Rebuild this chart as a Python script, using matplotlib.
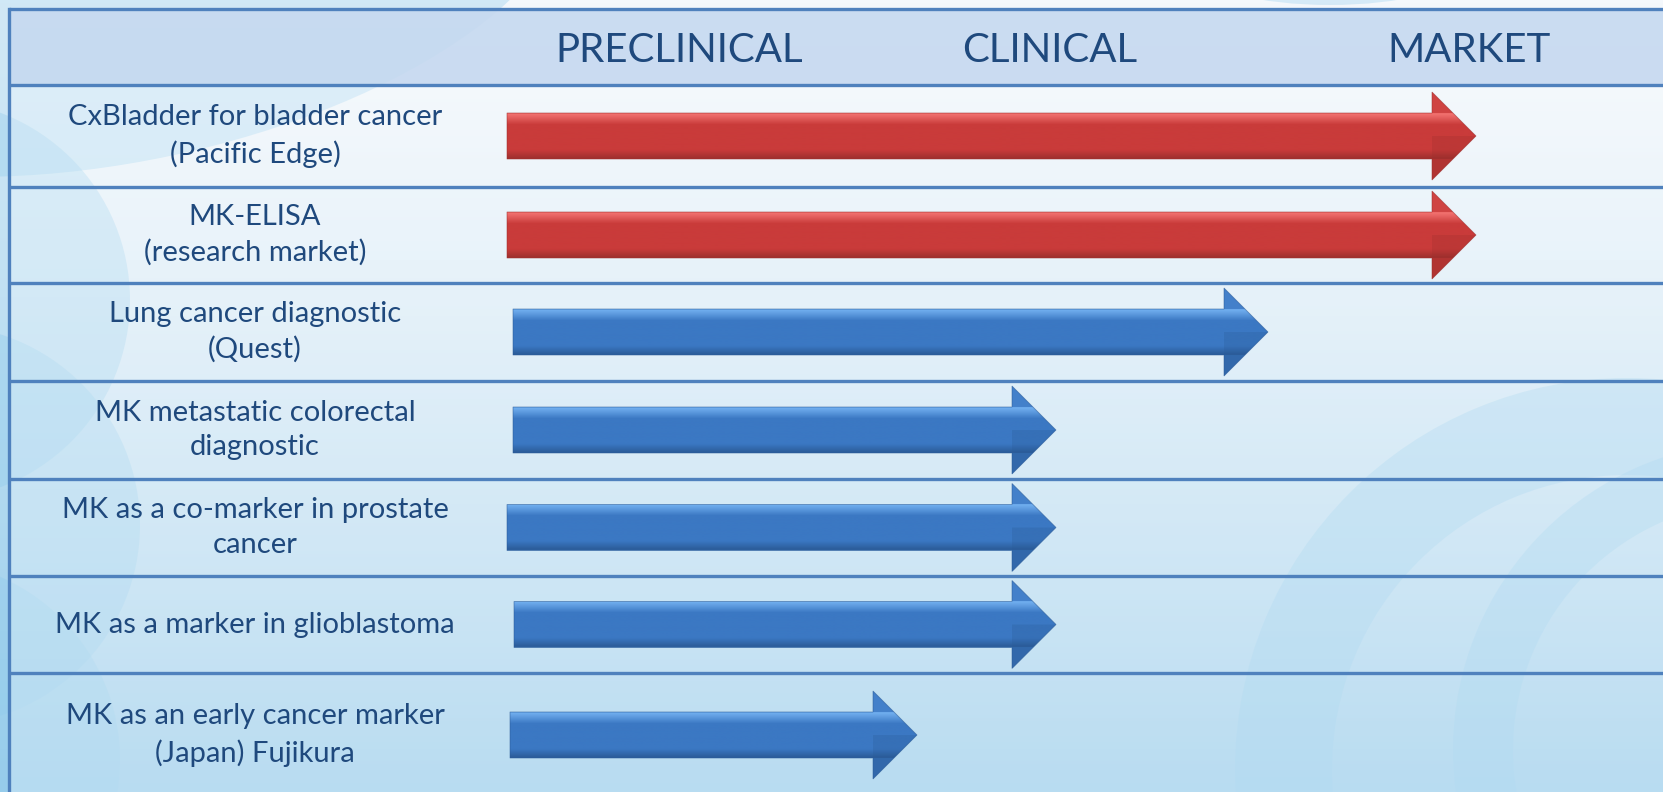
import numpy as np
import matplotlib.pyplot as plt
from matplotlib.patches import Polygon, Circle, Ellipse, Wedge, Rectangle
from matplotlib.colors import to_rgb

plt.rcParams['font.family'] = ['Lato', 'DejaVu Sans']

# ---- data -------------------------------------------------------------
stages = ['PRECLINICAL', 'CLINICAL', 'MARKET']
stage_x = [679, 1050, 1469]

labels = ['CxBladder for bladder cancer\n(Pacific Edge)',
          'MK-ELISA\n(research market)',
          'Lung cancer diagnostic\n(Quest)',
          'MK metastatic colorectal\ndiagnostic',
          'MK as a co-marker in prostate\ncancer',
          'MK as a marker in glioblastoma',
          'MK as an early cancer marker\n(Japan) Fujikura']
arrow_start = [507, 507, 513, 513, 507, 514, 510]
arrow_end = [1476, 1476, 1268, 1056, 1056, 1056, 917]
arrow_kind = ['red', 'red', 'blue', 'blue', 'blue', 'blue', 'blue']

# ---- style --------------------------------------------------------------
W, H = 1663, 792
TXT = '#1F497D'
LINE = '#4F81BD'
PAL = {'red': ('#F47573', '#C93B3A', '#9C2F2D'),
       'blue': ('#74B2F2', '#3B78C3', '#2A5A96')}
top_y = 9
left_x = 8.5
# table row edges (pixels), last row runs off the slide
row_edges = [85, 187, 283, 381, 479, 576, 673, 797]
body_h, head_h, head_len = 23, 44, 44


def row_center(i):
    return 0.5 * (row_edges[i] + row_edges[i + 1])


def mix(c1, c2, t):
    a, b = np.array(to_rgb(c1)), np.array(to_rgb(c2))
    return a + (b - a) * t


fig = plt.figure(figsize=(W / 100, H / 100), dpi=100)
ax = fig.add_axes([0, 0, 1, 1])
ax.set_xlim(0, W)
ax.set_ylim(H, 0)
ax.axis('off')

# background gradient
t = np.linspace(0, 1, 256)
bg = np.array([mix('#F4F8FC', '#9ACDEB', v ** 1.3) for v in t])[:, None, :]
ax.imshow(bg, extent=[0, W, H, 0], aspect='auto', zorder=0)

# decorative swooshes
deco = '#8FCBEC'
ax.add_patch(Ellipse((130, -40), 900, 400, angle=-12, color=deco, alpha=0.35, lw=0, zorder=1))
ax.add_patch(Ellipse((1330, -30), 260, 70, angle=0, color=deco, alpha=0.3, lw=0, zorder=1))
for cx, cy, r in [(-70, 300, 200), (-60, 525, 200), (-80, 760, 200)]:
    ax.add_patch(Circle((cx, cy), r, color=deco, alpha=0.35, lw=0, zorder=1))
ax.add_patch(Wedge((1627, 770), 392, 0, 360, width=97, color=deco, alpha=0.35, lw=0, zorder=1))
ax.add_patch(Wedge((1762, 750), 309, 0, 360, width=60, color=deco, alpha=0.35, lw=0, zorder=1))

# table
n = len(labels)
ax.add_patch(Rectangle((left_x, top_y), W, row_edges[0] - top_y, color='#C6D9F0', alpha=0.9, lw=0, zorder=2))
ax.add_patch(Rectangle((left_x, row_edges[0]), W, H, color='white', alpha=0.3, lw=0, zorder=2))
for y in [top_y] + row_edges[:-1]:
    ax.plot([left_x, W], [y, y], color=LINE, lw=2.4, zorder=3, solid_capstyle='butt')
ax.plot([left_x, left_x], [top_y, H], color=LINE, lw=2.4, zorder=3)

for s, x in zip(stages, stage_x):
    ax.text(x, 50, s, color=TXT, fontsize=29, ha='center', va='center', zorder=5)

for i, lab in enumerate(labels):
    ax.text(255, row_center(i), lab, color=TXT, fontsize=21, ha='center', va='center',
            linespacing=1.42, zorder=5)

# arrows
for i in range(n):
    yc = row_center(i)
    x0, xt = arrow_start[i], arrow_end[i]
    xb = xt - head_len
    light, main, dark = PAL[arrow_kind[i]]
    pts = [(x0, yc - body_h), (xb, yc - body_h), (xb, yc - head_h), (xt, yc),
           (xb, yc + head_h), (xb, yc + body_h), (x0, yc + body_h)]
    poly = Polygon(pts, closed=True, facecolor='none', edgecolor='none', zorder=4)
    ax.add_patch(poly)
    ys = np.linspace(yc - head_h, yc + head_h, 200)
    cols = []
    for y in ys:
        u = (y - (yc - body_h)) / (2 * body_h)
        if u < 0:
            c = mix(main, light, 0.15)
        elif u < 0.08:
            c = mix(light, main, u / 0.08 * 0.3)
        elif u < 0.25:
            c = mix(light, main, 0.3 + (u - 0.08) / 0.17 * 0.7)
        elif u < 0.8:
            c = to_rgb(main)
        elif u <= 1:
            c = mix(main, dark, (u - 0.8) / 0.2)
        else:
            c = mix(main, dark, 0.35)
        cols.append(c)
    grad = np.array(cols)[:, None, :]
    im = ax.imshow(grad, extent=[x0, xt, yc + head_h, yc - head_h], aspect='auto', zorder=4)
    im.set_clip_path(poly)
    # bevel on lower half of the head
    ax.add_patch(Polygon([(xb, yc), (xt, yc), (xb, yc + head_h)], closed=True,
                         facecolor=dark, alpha=0.25, lw=0, zorder=4.5))
    ax.add_patch(Polygon(pts, closed=True, facecolor='none', edgecolor=dark,
                         lw=0.6, alpha=0.6, zorder=4.6))

fig.savefig('out.png', dpi=100)
